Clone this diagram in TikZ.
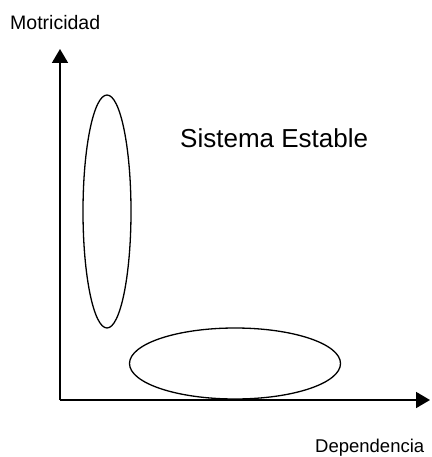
\documentclass[tikz,border=0pt]{standalone}
\usepackage{fontspec}
\setmainfont{Liberation Sans}
\usetikzlibrary{arrows.meta,positioning,shapes.geometric}
\tikzset{
  axisline/.style={
    line width=1.8pt,
    -{Triangle[length=14pt,width=16pt]}
  },
  zonebox/.style={
    ellipse,
    draw,
    line width=1.3pt,
    inner sep=0pt
  },
  axislabel/.style={
    inner sep=0pt,
    anchor=base west,
    font=\fontsize{18.5}{22}\selectfont
  }
}

\begin{document}
\begin{tikzpicture}[x=1pt,y=-1pt]
\useasboundingbox (0,0) rectangle (431,457);
\coordinate (origin) at (60,400);
\coordinate (ytop) at (60,49);
\coordinate (xend) at (430,400);
\draw[axisline] (origin) -- (ytop);
\draw[axisline] (origin) -- (xend);
\node[zonebox, minimum width=48pt, minimum height=233pt] (motriz) at (107,211.5) {};
\node[zonebox, minimum width=211pt, minimum height=71pt] (dependiente) at (235,363.5) {};
\node[inner sep=0pt, anchor=base west, font=\fontsize{26}{30}\selectfont] (estable) at (180,147) {Sistema Estable};
\node[axislabel, font=\fontsize{19.5}{23}\selectfont] (motricidad) at (10,30) {Motricidad};
\node[axislabel] (dependencia) at (315,452) {Dependencia};
\end{tikzpicture}
\end{document}
